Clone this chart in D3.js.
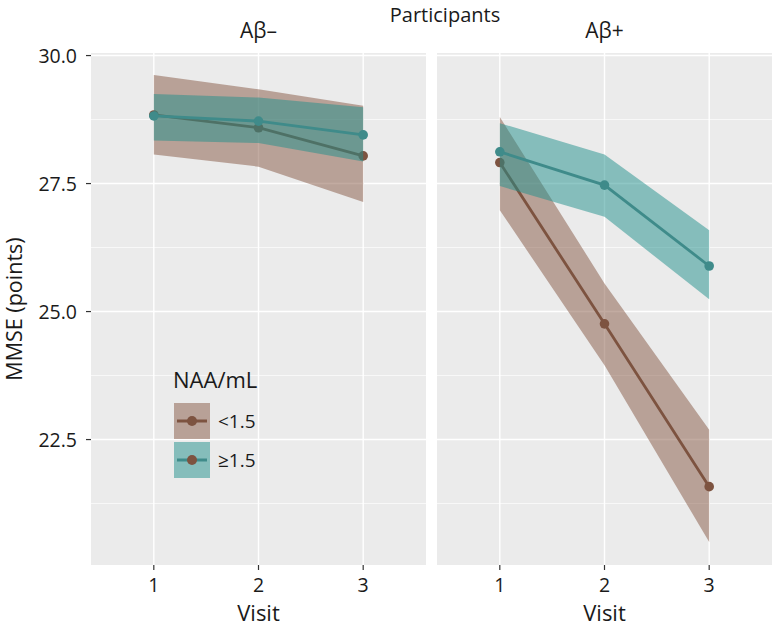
<!DOCTYPE html>
<html><head><meta charset="utf-8">
<script src="https://cdn.jsdelivr.net/npm/d3@7"></script>
<style>
body{margin:0;background:#fff;}
text{font-family:"Open Sans",sans-serif;fill:#1a1a1a;}
</style></head>
<body><svg id="c" width="776" height="630"></svg>
<script>
const visits = [1, 2, 3];
const panels = ["Aβ–", "Aβ+"];
const groups = ["<1.5", "≥1.5"];
// mean, lower, upper per panel & group
const negLowMean = [28.84, 28.59, 28.04];
const negLowLower = [28.07, 27.83, 27.14];
const negLowUpper = [29.62, 29.34, 29.02];
const negHighMean = [28.82, 28.72, 28.45];
const negHighLower = [28.34, 28.29, 27.93];
const negHighUpper = [29.25, 29.18, 28.99];
const posLowMean = [27.91, 24.76, 21.58];
const posLowLower = [26.98, 23.95, 20.50];
const posLowUpper = [28.80, 25.55, 22.69];
const posHighMean = [28.12, 27.47, 25.89];
const posHighLower = [27.45, 26.85, 25.24];
const posHighUpper = [28.68, 28.07, 26.59];
const yTicks = [22.5, 25.0, 27.5, 30.0];
const yMinor = [21.25, 23.75, 26.25, 28.75];

const series = [
  [{mean: negLowMean, lower: negLowLower, upper: negLowUpper},
   {mean: negHighMean, lower: negHighLower, upper: negHighUpper}],
  [{mean: posLowMean, lower: posLowLower, upper: posLowUpper},
   {mean: posHighMean, lower: posHighLower, upper: posHighUpper}]
];

const lineCol = ["#7d5340", "#3f8b8a"];
const fillCol = ["rgba(133,87,67,0.5)", "rgba(32,143,139,0.5)"];

const svg = d3.select("#c");
const pTop = 53, pBottom = 565;
const panelX = [[91, 426], [437, 772]];
const y = d3.scaleLinear().domain([20.05, 30.05]).range([pBottom, pTop]);

panels.forEach((p, pi) => {
  const [x0, x1] = panelX[pi];
  const x = d3.scaleLinear().domain([0.4, 3.6]).range([x0, x1]);
  const g = svg.append("g");
  g.append("rect").attr("x", x0).attr("y", pTop).attr("width", x1 - x0).attr("height", pBottom - pTop).attr("fill", "#ebebeb");
  yMinor.forEach(v => g.append("line").attr("x1", x0).attr("x2", x1).attr("y1", y(v)).attr("y2", y(v)).attr("stroke", "#fff").attr("stroke-width", 0.7));
  yTicks.forEach(v => g.append("line").attr("x1", x0).attr("x2", x1).attr("y1", y(v)).attr("y2", y(v)).attr("stroke", "#fff").attr("stroke-width", 1.4));
  visits.forEach(v => g.append("line").attr("x1", x(v)).attr("x2", x(v)).attr("y1", pTop).attr("y2", pBottom).attr("stroke", "#fff").attr("stroke-width", 1.4));

  series[pi].forEach((s, gi) => {
    const pts = visits.map((v, i) => ({v, m: s.mean[i], lo: s.lower[i], hi: s.upper[i]}));
    const area = d3.area().x(d => x(d.v)).y0(d => y(d.lo)).y1(d => y(d.hi));
    g.append("path").attr("d", area(pts)).attr("fill", fillCol[gi]);
    const line = d3.line().x(d => x(d.v)).y(d => y(d.m));
    g.append("path").attr("d", line(pts)).attr("fill", "none").attr("stroke", lineCol[gi]).attr("stroke-width", 2.8);
    pts.forEach(d => g.append("circle").attr("cx", x(d.v)).attr("cy", y(d.m)).attr("r", 4.8).attr("fill", lineCol[gi]));
  });

  // x axis
  visits.forEach(v => {
    g.append("line").attr("x1", x(v)).attr("x2", x(v)).attr("y1", pBottom).attr("y2", pBottom + 5).attr("stroke", "#333").attr("stroke-width", 1.2);
    g.append("text").attr("x", x(v)).attr("y", 592).attr("text-anchor", "middle").attr("font-size", 19.5).attr("fill", "#222").text(v);
  });
  g.append("text").attr("x", (x0 + x1) / 2).attr("y", 621).attr("text-anchor", "middle").attr("font-size", 22).text("Visit");
  g.append("text").attr("x", (x0 + x1) / 2).attr("y", 38).attr("text-anchor", "middle").attr("font-size", 21).text(p);
});

// y axis
yTicks.forEach(v => {
  svg.append("line").attr("x1", 86).attr("x2", 91).attr("y1", y(v)).attr("y2", y(v)).attr("stroke", "#333").attr("stroke-width", 1.2);
  svg.append("text").attr("x", 77).attr("y", y(v) + 7).attr("text-anchor", "end").attr("font-size", 19.5).attr("fill", "#222").text(d3.format(".1f")(v));
});
svg.append("text").attr("transform", `translate(22,${(pTop + pBottom) / 2}) rotate(-90)`).attr("text-anchor", "middle").attr("font-size", 21.5).text("MMSE (points)");
svg.append("text").attr("x", 445).attr("y", 22).attr("text-anchor", "middle").attr("font-size", 20).text("Participants");

// legend
const lg = svg.append("g");
lg.append("text").attr("x", 173).attr("y", 388).attr("font-size", 22).text("NAA/mL");
groups.forEach((gname, gi) => {
  const ky = 403 + gi * 39;
  lg.append("rect").attr("x", 174).attr("y", ky).attr("width", 36).attr("height", 36).attr("fill", fillCol[gi]);
  lg.append("line").attr("x1", 177).attr("x2", 207).attr("y1", ky + 18).attr("y2", ky + 18).attr("stroke", lineCol[gi]).attr("stroke-width", 3);
  lg.append("circle").attr("cx", 192).attr("cy", ky + 18).attr("r", 5).attr("fill", lineCol[0]);
  lg.append("text").attr("x", 218).attr("y", ky + 25).attr("font-size", 19).text(gname);
});
</script></body></html>
